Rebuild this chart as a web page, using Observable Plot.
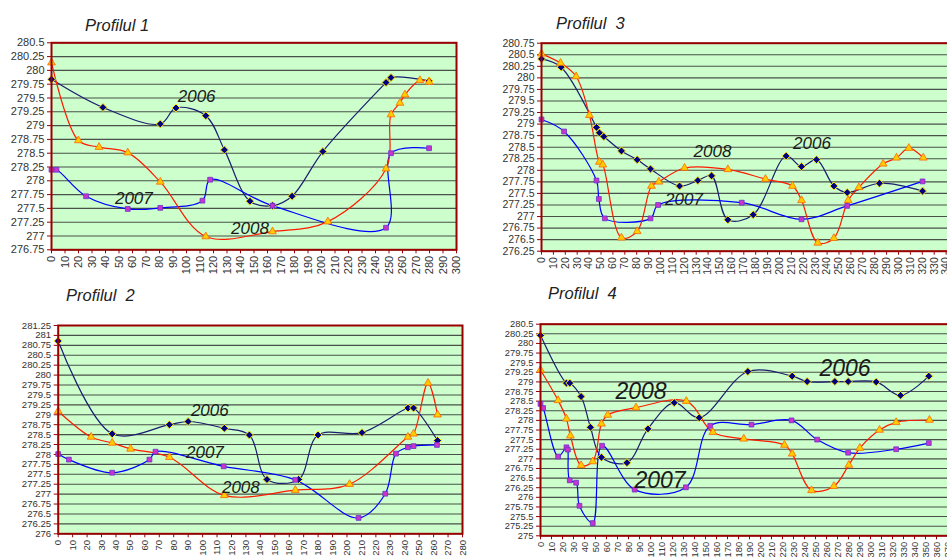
<!DOCTYPE html>
<html><head><meta charset="utf-8">
<script src="https://cdn.jsdelivr.net/npm/d3@7"></script>
<script src="https://cdn.jsdelivr.net/npm/@observablehq/plot@0.6"></script>
<style>
html,body{margin:0;padding:0;background:#fff;width:947px;height:559px;overflow:hidden;}
#wrap{position:relative;width:947px;height:559px;overflow:hidden;font-family:Arial,"Liberation Sans",sans-serif;}
.panel{position:absolute;}
.panel svg{overflow:visible;}
.title{position:absolute;font-style:italic;font-size:16.5px;color:#222;white-space:pre;line-height:18px;}
.panel [aria-label^="x-axis"] line, .panel [aria-label="x-axis tick"] path,
.panel [aria-label^="y-axis"] line, .panel [aria-label="y-axis tick"] path {stroke:#990000;}
</style>
</head><body><div id="wrap"></div>
<script>
// ---------- Profilul 1 ----------
const p1_2006 = [[0,279.84],[38.1,279.33],[80.6,279.03],[92.2,279.32],[114.3,279.18],[128.1,278.56],[147,277.63],[163.7,277.55],[178.2,277.72],[201,278.53],[247.8,279.78],[251.5,279.87],[279.7,279.81]];
const p1_2007 = [[0,278.2],[3.7,278.2],[25.6,277.72],[56.5,277.49],[80.6,277.51],[111.8,277.64],[117.5,278.02],[163.7,277.55],[247.8,277.15],[251.5,278.5],[279.7,278.59]];
const p1_2008 = [[0,280.14],[19.9,278.73],[35.2,278.61],[56.5,278.51],[80.6,277.98],[114.3,276.99],[163.7,277.08],[204.7,277.26],[247.8,278.22],[251.5,279.2],[258.1,279.41],[261.8,279.56],[272.9,279.82],[279.7,279.79]];
const p1Labels = [{x:107.5,y:279.53,t:"2006"},{x:61,y:277.68,t:"2007"},{x:147,y:277.14,t:"2008"}];
const p1YTicks = [276.75,277,277.25,277.5,277.75,278,278.25,278.5,278.75,279,279.25,279.5,279.75,280,280.25,280.5];
const p1XTicks = [0,10,20,30,40,50,60,70,80,90,100,110,120,130,140,150,160,170,180,190,200,210,220,230,240,250,260,270,280,290,300];

// ---------- Profilul 2 ----------
const p2_2006 = [[0,280.86],[37.4,278.52],[77,278.75],[90,278.83],[115.1,278.66],[132.4,278.49],[144.6,277.37],[166.5,277.37],[179.9,278.49],[210.4,278.55],[242.2,279.17],[246.1,279.17],[262.7,278.35]];
const p2_2007 = [[0,278.01],[7.4,277.87],[37.4,277.54],[63.2,277.87],[67.4,278.07],[114.6,277.7],[164.2,277.36],[208,276.4],[226.5,277.01],[233.9,278.02],[242.2,278.18],[246.1,278.21],[262.3,278.24]];
const p2_2008 = [[0,279.09],[22.8,278.44],[37.4,278.29],[50.1,278.14],[77,277.93],[115.1,276.97],[164.2,277.1],[201.8,277.25],[242.2,278.44],[246.1,278.52],[256.1,279.8],[262.7,279.0]];
const p2Labels = [{x:105,y:279.11,t:"2006"},{x:101.6,y:278.05,t:"2007"},{x:126.5,y:277.17,t:"2008"}];
const p2YTicks = [276,276.25,276.5,276.75,277,277.25,277.5,277.75,278,278.25,278.5,278.75,279,279.25,279.5,279.75,280,280.25,280.5,280.75,281,281.25];
const p2XTicks = [0,10,20,30,40,50,60,70,80,90,100,110,120,130,140,150,160,170,180,190,200,210,220,230,240,250,260,270,280];

// ---------- Profilul 3 ----------
const p3_2006 = [[0,280.41],[16.5,280.23],[46.2,278.93],[48.7,278.81],[52.4,278.73],[67.2,278.42],[80.4,278.23],[91.6,278.03],[116,277.66],[131.4,277.78],[142.9,277.88],[156.6,276.93],[177.9,277.04],[205.6,278.31],[218.5,278.08],[231.1,278.23],[245.7,277.66],[256.9,277.52],[284,277.72],[320.2,277.55]];
const p3_2007 = [[0,279.1],[19,278.84],[46.2,277.78],[48.2,277.38],[53.2,276.96],[91.6,276.96],[98,277.25],[168.3,277.3],[218.5,276.94],[256.9,277.23],[320.2,277.76]];
const p3_2008 = [[0,280.52],[16,280.32],[29.1,280.03],[40.3,279.19],[48.7,278.18],[51.5,278.12],[67.2,276.54],[80.4,276.68],[92.4,277.66],[98.6,277.75],[120.2,278.05],[156.6,278.02],[188.2,277.81],[210.9,277.66],[218.5,277.35],[232.2,276.43],[245.7,276.53],[257.7,277.35],[266.7,277.63],[287.1,278.14],[298.3,278.27],[308.7,278.48],[320.8,278.27]];
const p3Labels = [{x:143.7,y:278.41,t:"2008"},{x:119.7,y:277.37,t:"2007"},{x:227.3,y:278.58,t:"2006"}];
const p3YTicks = [276.25,276.5,276.75,277,277.25,277.5,277.75,278,278.25,278.5,278.75,279,279.25,279.5,279.75,280,280.25,280.5,280.75];
const p3XTicks = [0,10,20,30,40,50,60,70,80,90,100,110,120,130,140,150,160,170,180,190,200,210,220,230,240,250,260,270,280,290,300,310,320,330,340,350,360];

// ---------- Profilul 4 ----------
const p4_2006 = [[0,280.21],[23.6,278.97],[26.6,278.97],[36.9,278.62],[45.4,277.82],[55.4,277.04],[78.6,276.9],[97.7,277.78],[121.6,278.46],[144.3,278.07],[188.5,279.27],[228.8,279.15],[242.4,279.01],[267.6,279.01],[279.7,279.01],[305.2,279.0],[327.3,278.65],[353,279.15]];
const p4_2007 = [[0,278.43],[2.4,278.32],[16,277.06],[23.6,277.3],[24.8,277.24],[26.6,276.44],[32.4,276.38],[35.4,275.78],[47.5,275.33],[56,277.34],[85.6,276.2],[132.2,276.26],[154.3,277.86],[191.8,277.89],[228.2,278.0],[251.5,277.5],[279.7,277.16],[323.3,277.25],[353,277.41]];
const p4_2008 = [[0,279.31],[16,278.52],[23.6,278.04],[27.2,277.6],[36.9,276.83],[47.5,276.93],[55.4,277.91],[61.1,278.14],[86.8,278.33],[132.5,278.5],[156.7,277.69],[184.8,277.52],[221.8,277.36],[228.8,277.13],[246.4,276.18],[266.7,276.29],[280.3,276.84],[290.3,277.28],[308.2,277.75],[323.3,277.95],[353.6,278.01]];
const p4Labels = [{x:91.4,y:278.75,t:"2008"},{x:108.6,y:276.44,t:"2007"},{x:276.8,y:279.35,t:"2006"}];
const p4YTicks = [275,275.25,275.5,275.75,276,276.25,276.5,276.75,277,277.25,277.5,277.75,278,278.25,278.5,278.75,279,279.25,279.5,279.75,280,280.25,280.5];
const p4XTicks = [0,10,20,30,40,50,60,70,80,90,100,110,120,130,140,150,160,170,180,190,200,210,220,230,240,250,260,270,280,290,300,310,320,330,340,350,360,370,380];

const titles = ["Profilul 1", "Profilul  2", "Profilul  3", "Profilul  4"];

const panels = [
  {title: titles[0], tl:85, tt:16, left:0, top:0, width:470, height:280, mL:51, mR:14, mT:42.3, mB:30.7, xmax:300, ymin:276.75, ymax:280.5, xt:p1XTicks, yt:p1YTicks, s6:p1_2006, s7:p1_2007, s8:p1_2008, lab:p1Labels, lfs:17, fs:11},
  {title: titles[1], tl:66, tt:286, left:0, top:280, width:480, height:279, mL:57.7, mR:18, mT:45, mB:25.7, xmax:280, ymin:276, ymax:281.25, xt:p2XTicks, yt:p2YTicks, s6:p2_2006, s7:p2_2007, s8:p2_2008, lab:p2Labels, lfs:17, fs:9.6},
  {title: titles[2], tl:556, tt:14, left:480, top:0, width:500, height:280, mL:61, mR:10.6, mT:42.7, mB:29.3, xmax:360, ymin:276.25, ymax:280.75, xt:p3XTicks, yt:p3YTicks, s6:p3_2006, s7:p3_2007, s8:p3_2008, lab:p3Labels, lfs:17, fs:10.5},
  {title: titles[3], tl:548, tt:284, left:480, top:280, width:490, height:279, mL:60, mR:12, mT:43.7, mB:23.7, xmax:380, ymin:275, ymax:280.5, xt:p4XTicks, yt:p4YTicks, s6:p4_2006, s7:p4_2007, s8:p4_2008, lab:p4Labels, lfs:23, fs:9.4}
];

const wrap = document.getElementById("wrap");
const X = d => d[0], Y = d => d[1];

for (const p of panels) {
  const chart = Plot.plot({
    width: p.width, height: p.height,
    marginLeft: p.mL, marginRight: p.mR, marginTop: p.mT, marginBottom: p.mB,
    style: {background: "transparent", maxWidth: "none", overflow: "visible",
            fontFamily: "Arial, 'Liberation Sans', sans-serif", fontSize: p.fs + "px", color: "#333"},
    x: {domain: [0, p.xmax], ticks: p.xt, tickFormat: d => String(d), tickRotate: -90, tickSize: 4, tickPadding: 2, label: null},
    y: {domain: [p.ymin, p.ymax], ticks: p.yt, tickFormat: d => String(d), tickSize: 4, tickPadding: 3, label: null},
    marks: [
      Plot.frame({fill: "#ccffcc"}),
      Plot.ruleY(p.yt, {stroke: "#333", strokeWidth: 1.1, strokeOpacity: 0.85}),
      Plot.line(p.s6, {x: X, y: Y, stroke: "#1c1c70", strokeWidth: 1.2, curve: "catmull-rom"}),
      Plot.line(p.s7, {x: X, y: Y, stroke: "#0000ff", strokeWidth: 1.2, curve: "catmull-rom"}),
      Plot.line(p.s8, {x: X, y: Y, stroke: "#ff1a00", strokeWidth: 1.2, curve: "catmull-rom"}),
      Plot.dot(p.s6, {x: X, y: Y, symbol: "diamond2", r: 3.6, fill: "#000080", stroke: "#ffee00", strokeWidth: 1}),
      Plot.dot(p.s7, {x: X, y: Y, symbol: "square", r: 2.7, fill: "#cc33cc", stroke: "#6633cc", strokeWidth: 0.8}),
      Plot.dot(p.s8, {x: X, y: Y, symbol: "triangle", r: 2.9, fill: "#ffcc00", stroke: "#ff6600", strokeWidth: 0.8}),
      Plot.text(p.lab, {x: "x", y: "y", text: "t", fontSize: p.lfs, fontStyle: "italic", fill: "#1a1a1a", fontFamily: "Arial, 'Liberation Sans', sans-serif"}),
      Plot.frame({stroke: "#990000", strokeWidth: 2})
    ]
  });
  const div = document.createElement("div");
  div.className = "panel";
  div.style.left = p.left + "px";
  div.style.top = p.top + "px";
  div.appendChild(chart);
  wrap.appendChild(div);
  const t = document.createElement("div");
  t.className = "title";
  t.style.left = p.tl + "px";
  t.style.top = p.tt + "px";
  t.textContent = p.title;
  wrap.appendChild(t);
}
</script>
</body></html>
